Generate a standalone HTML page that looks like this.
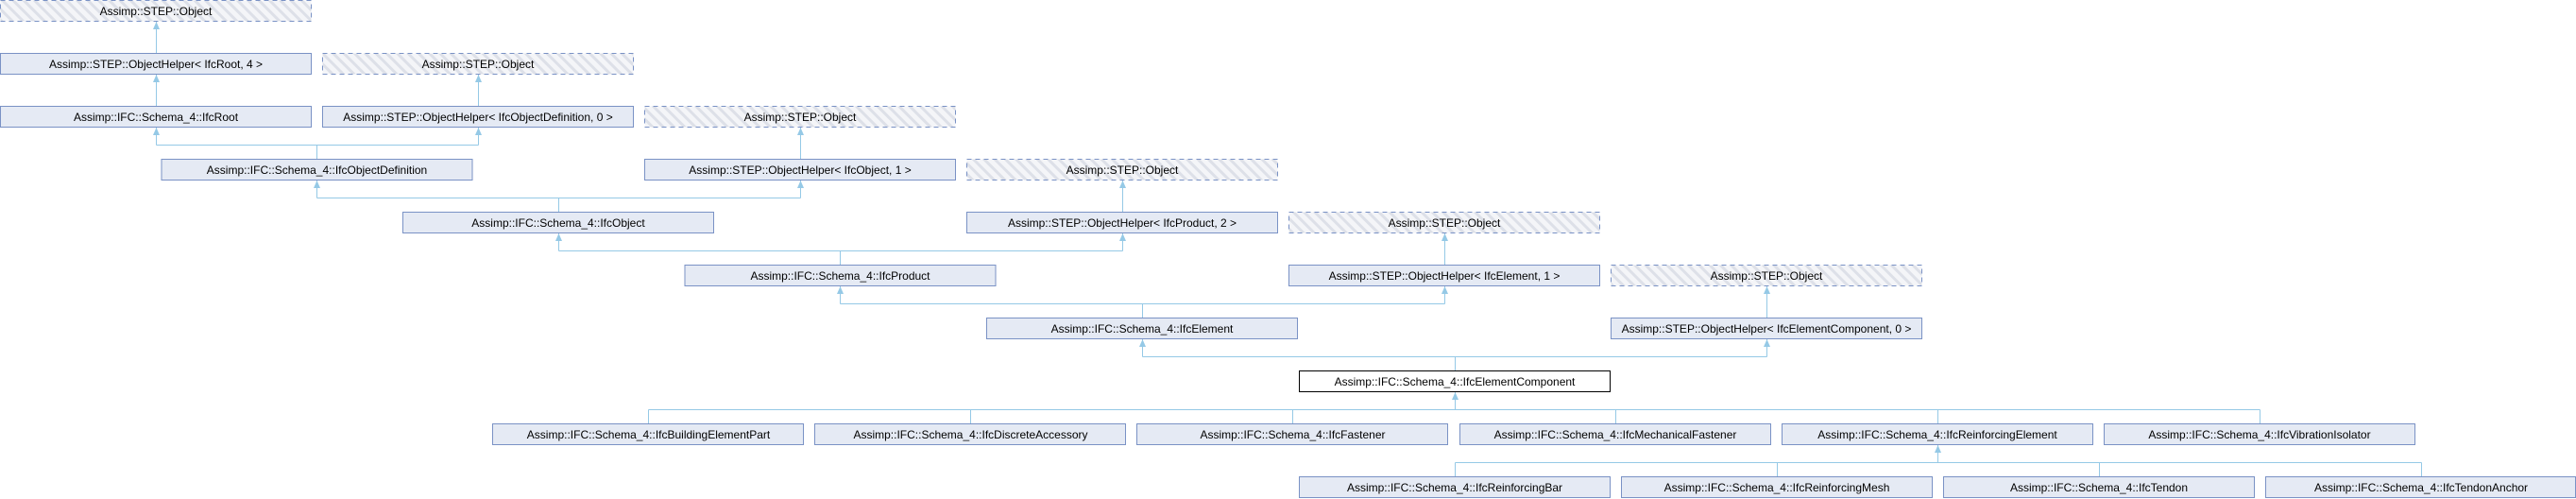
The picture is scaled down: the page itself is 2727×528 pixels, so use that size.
<!DOCTYPE html>
<html><head><meta charset="utf-8"><style>
html,body{margin:0;padding:0;background:#fff;}
svg{display:block;}
text{font-family:"Liberation Sans",Arial,sans-serif;font-size:12px;fill:#000;text-anchor:middle;}
.n{fill:#E5EAF4;stroke:#7A92C5;stroke-width:1;}
.d{fill:url(#h);stroke:#7A92C5;stroke-width:1;stroke-dasharray:5,4;}
.s{fill:#fff;stroke:#000;stroke-width:1;}
.e{stroke:#95C9E6;stroke-width:1;fill:none;}
.a{fill:#95C9E6;}
</style></head><body>
<svg width="2727" height="528" viewBox="0 0 2727 528" xmlns="http://www.w3.org/2000/svg">
<defs><pattern id="h" width="8" height="8" patternUnits="userSpaceOnUse" patternTransform="rotate(-45)"><rect width="8" height="8" fill="#F4F5F8"/><rect width="3" height="8" fill="#DDE0E8"/></pattern></defs>
<!-- edges -->
<g class="e">
<path d="M165.5 56V23"/><path d="M165.5 112V79"/><path d="M506.5 112V79"/>
<path d="M847.5 168V135"/><path d="M1188.5 224V191"/><path d="M1529.5 280V247"/><path d="M1870.5 336V303"/>
<path d="M335.5 168V153.5M165.5 153.5H506.5M165.5 153.5V135M506.5 153.5V135"/>
<path d="M591.5 224V209.5M335.5 209.5H847.5M335.5 209.5V191M847.5 209.5V191"/>
<path d="M889.5 280V265.5M591.5 265.5H1188.5M591.5 265.5V247M1188.5 265.5V247"/>
<path d="M1209.5 336V321.5M889.5 321.5H1529.5M889.5 321.5V303M1529.5 321.5V303"/>
<path d="M1540.5 392V377.5M1209.5 377.5H1870.5M1209.5 377.5V359M1870.5 377.5V359"/>
<path d="M1540.5 433.5V415M686.5 433.5H2392.5M686.5 433.5V448M1027.5 433.5V448M1368.5 433.5V448M1710.5 433.5V448M2051.5 433.5V448M2392.5 433.5V448"/>
<path d="M2051.5 489.5V471M1540.5 489.5H2563.5M1540.5 489.5V504M1881.5 489.5V504M2222.5 489.5V504M2563.5 489.5V504"/>
</g>
<g class="a">
<path d="M165.5 23l-3.5 8h7z"/><path d="M165.5 79l-3.5 8h7z"/><path d="M506.5 79l-3.5 8h7z"/>
<path d="M165.5 135l-3.5 8h7z"/><path d="M506.5 135l-3.5 8h7z"/><path d="M847.5 135l-3.5 8h7z"/>
<path d="M335.5 191l-3.5 8h7z"/><path d="M847.5 191l-3.5 8h7z"/><path d="M1188.5 191l-3.5 8h7z"/>
<path d="M591.5 247l-3.5 8h7z"/><path d="M1188.5 247l-3.5 8h7z"/><path d="M1529.5 247l-3.5 8h7z"/>
<path d="M889.5 303l-3.5 8h7z"/><path d="M1529.5 303l-3.5 8h7z"/><path d="M1870.5 303l-3.5 8h7z"/>
<path d="M1209.5 359l-3.5 8h7z"/><path d="M1870.5 359l-3.5 8h7z"/>
<path d="M1540.5 415l-3.5 8h7z"/><path d="M2051.5 471l-3.5 8h7z"/>
</g>
<!-- nodes -->
<rect class="d" x="0.5" y="0.5" width="329" height="22"/><text x="165" y="16">Assimp::STEP::Object</text>
<rect class="n" x="0.5" y="56.5" width="329" height="22"/><text x="165" y="72">Assimp::STEP::ObjectHelper&lt; IfcRoot, 4 &gt;</text>
<rect class="d" x="341.5" y="56.5" width="329" height="22"/><text x="506" y="72">Assimp::STEP::Object</text>
<rect class="n" x="0.5" y="112.5" width="329" height="22"/><text x="165" y="128">Assimp::IFC::Schema_4::IfcRoot</text>
<rect class="n" x="341.5" y="112.5" width="329" height="22"/><text x="506" y="128">Assimp::STEP::ObjectHelper&lt; IfcObjectDefinition, 0 &gt;</text>
<rect class="d" x="682.5" y="112.5" width="329" height="22"/><text x="847" y="128">Assimp::STEP::Object</text>
<rect class="n" x="171" y="168.5" width="329" height="22"/><text x="335.5" y="184">Assimp::IFC::Schema_4::IfcObjectDefinition</text>
<rect class="n" x="682.5" y="168.5" width="329" height="22"/><text x="847" y="184">Assimp::STEP::ObjectHelper&lt; IfcObject, 1 &gt;</text>
<rect class="d" x="1023.5" y="168.5" width="329" height="22"/><text x="1188" y="184">Assimp::STEP::Object</text>
<rect class="n" x="426.5" y="224.5" width="329" height="22"/><text x="591" y="240">Assimp::IFC::Schema_4::IfcObject</text>
<rect class="n" x="1023.5" y="224.5" width="329" height="22"/><text x="1188" y="240">Assimp::STEP::ObjectHelper&lt; IfcProduct, 2 &gt;</text>
<rect class="d" x="1364.5" y="224.5" width="329" height="22"/><text x="1529" y="240">Assimp::STEP::Object</text>
<rect class="n" x="725" y="280.5" width="329" height="22"/><text x="889.5" y="296">Assimp::IFC::Schema_4::IfcProduct</text>
<rect class="n" x="1364.5" y="280.5" width="329" height="22"/><text x="1529" y="296">Assimp::STEP::ObjectHelper&lt; IfcElement, 1 &gt;</text>
<rect class="d" x="1705.5" y="280.5" width="329" height="22"/><text x="1870" y="296">Assimp::STEP::Object</text>
<rect class="n" x="1044.5" y="336.5" width="329" height="22"/><text x="1209" y="352">Assimp::IFC::Schema_4::IfcElement</text>
<rect class="n" x="1705.5" y="336.5" width="329" height="22"/><text x="1870" y="352">Assimp::STEP::ObjectHelper&lt; IfcElementComponent, 0 &gt;</text>
<rect class="s" x="1375.5" y="392.5" width="329" height="22"/><text x="1540" y="408">Assimp::IFC::Schema_4::IfcElementComponent</text>
<rect class="n" x="521.5" y="448.5" width="329" height="22"/><text x="686.5" y="464">Assimp::IFC::Schema_4::IfcBuildingElementPart</text>
<rect class="n" x="862.5" y="448.5" width="329" height="22"/><text x="1027.5" y="464">Assimp::IFC::Schema_4::IfcDiscreteAccessory</text>
<rect class="n" x="1203.5" y="448.5" width="329" height="22"/><text x="1368.5" y="464">Assimp::IFC::Schema_4::IfcFastener</text>
<rect class="n" x="1545.5" y="448.5" width="329" height="22"/><text x="1710" y="464">Assimp::IFC::Schema_4::IfcMechanicalFastener</text>
<rect class="n" x="1886.5" y="448.5" width="329" height="22"/><text x="2051" y="464">Assimp::IFC::Schema_4::IfcReinforcingElement</text>
<rect class="n" x="2227.5" y="448.5" width="329" height="22"/><text x="2392" y="464">Assimp::IFC::Schema_4::IfcVibrationIsolator</text>
<rect class="n" x="1375.5" y="504.5" width="329" height="22"/><text x="1540" y="520">Assimp::IFC::Schema_4::IfcReinforcingBar</text>
<rect class="n" x="1716.5" y="504.5" width="329" height="22"/><text x="1881" y="520">Assimp::IFC::Schema_4::IfcReinforcingMesh</text>
<rect class="n" x="2057.5" y="504.5" width="329" height="22"/><text x="2222" y="520">Assimp::IFC::Schema_4::IfcTendon</text>
<rect class="n" x="2398.5" y="504.5" width="328" height="22"/><text x="2563" y="520">Assimp::IFC::Schema_4::IfcTendonAnchor</text>
</svg>
</body></html>
